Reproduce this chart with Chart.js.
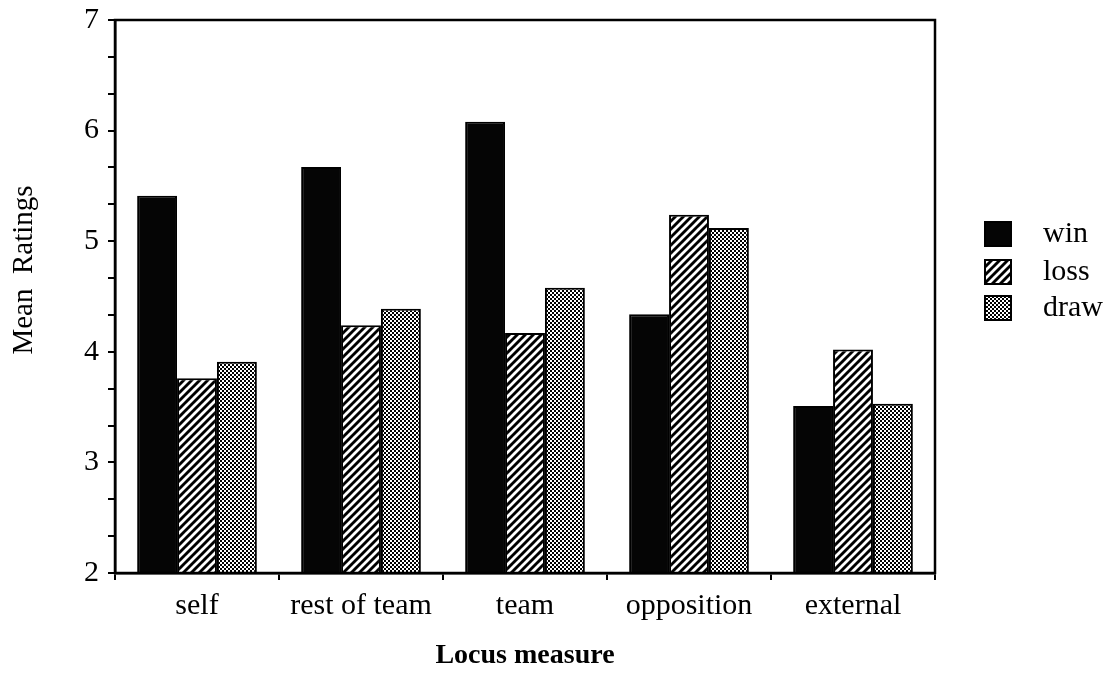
<!DOCTYPE html>
<html>
<head>
<meta charset="utf-8">
<script src="https://cdn.jsdelivr.net/npm/chart.js@4.4.1/dist/chart.umd.min.js"></script>
<style>
  html, body { margin: 0; padding: 0; background: #fff; }
  #wrap { width: 1111px; height: 673px; position: relative; }
</style>
</head>
<body>
<div id="wrap"><canvas id="chart"></canvas></div>
<script>
const categories = ['self', 'rest of team', 'team', 'opposition', 'external'];
const winValues  = [5.41, 5.67, 6.08, 4.34, 3.51];
const lossValues = [3.76, 4.24, 4.17, 5.24, 4.02];
const drawValues = [3.91, 4.39, 4.58, 5.12, 3.53];
const seriesNames = ['win', 'loss', 'draw'];
const yMin = 2, yMax = 7;

const FONT = '"Liberation Serif", "Times New Roman", serif';

function makePattern(size, paint) {
  const c = document.createElement('canvas');
  c.width = size; c.height = size;
  const g = c.getContext('2d');
  paint(g, size);
  return g.createPattern(c, 'repeat');
}

// fills: solid black, white diagonal stripes, fine checker
const solid = '#050505';
const stripes = makePattern(8, (g, s) => {
  g.fillStyle = '#000';
  g.fillRect(0, 0, s, s);
  g.strokeStyle = '#fff';
  g.lineWidth = 2.8;
  g.beginPath();
  g.moveTo(-1, s + 1); g.lineTo(s + 1, -1);
  g.moveTo(-2, 2); g.lineTo(2, -2);
  g.moveTo(s - 2, s + 2); g.lineTo(s + 2, s - 2);
  g.stroke();
});
const checks = makePattern(4, (g, s) => {
  g.fillStyle = '#fff';
  g.fillRect(0, 0, s, s);
  g.fillStyle = '#000';
  g.fillRect(0, 0, 2, 2);
  g.fillRect(2, 2, 2, 2);
});
const fills = [solid, stripes, checks];

// box round the plot area
const framePlugin = {
  id: 'frame',
  afterDatasetsDraw(chart) {
    const { ctx, chartArea: a } = chart;
    ctx.save();
    ctx.strokeStyle = '#000';
    ctx.lineWidth = 2.5;
    ctx.strokeRect(a.left, a.top, a.right - a.left, a.bottom - a.top);
    ctx.restore();
  }
};

// legend on the right
const legendPlugin = {
  id: 'sideLegend',
  afterDraw(chart) {
    const { ctx } = chart;
    const rows = [234, 272, 308];
    ctx.save();
    chart.data.datasets.forEach((ds, i) => {
      const y = rows[i];
      ctx.fillStyle = ds.backgroundColor;
      ctx.fillRect(985, y - 12, 26, 24);
      ctx.strokeStyle = '#000';
      ctx.lineWidth = 2;
      ctx.strokeRect(985, y - 12, 26, 24);
      ctx.fillStyle = '#000';
      ctx.font = '30px ' + FONT;
      ctx.textBaseline = 'middle';
      ctx.fillText(ds.label, 1043, y);
    });
    ctx.restore();
  }
};

// y title, placed a bit above the middle as in the original
const yTitlePlugin = {
  id: 'yTitle',
  afterDraw(chart) {
    const { ctx } = chart;
    ctx.save();
    ctx.translate(24, 270);
    ctx.rotate(-Math.PI / 2);
    ctx.fillStyle = '#000';
    ctx.font = '29px ' + FONT;
    ctx.textAlign = 'center';
    ctx.textBaseline = 'middle';
    ctx.fillText('Mean  Ratings', 0, 0);
    ctx.restore();
  }
};

new Chart(document.getElementById('chart'), {
  type: 'bar',
  data: {
    labels: categories,
    datasets: [winValues, lossValues, drawValues].map((vals, i) => ({
      label: seriesNames[i],
      data: vals,
      backgroundColor: fills[i],
      borderColor: '#000',
      borderWidth: 2,
      borderSkipped: false
    }))
  },
  options: {
    responsive: true,
    maintainAspectRatio: false,
    animation: false,
    layout: { padding: { top: 20, right: 176, left: 0, bottom: 0 } },
    datasets: { bar: { categoryPercentage: 0.73, barPercentage: 1 } },
    plugins: { legend: { display: false }, tooltip: { enabled: false } },
    scales: {
      x: {
        grid: { offset: true, drawOnChartArea: false, tickLength: 7, color: '#000', lineWidth: 2 },
        border: { display: true, color: '#000', width: 2.5 },
        ticks: { color: '#000', font: { family: FONT, size: 30 }, padding: 8, maxRotation: 0 },
        title: {
          display: true, text: 'Locus measure', color: '#000',
          font: { family: FONT, size: 28, weight: 'bold' },
          padding: { top: 4, bottom: 0 }
        },
        afterFit: s => { s.height = 100; }
      },
      y: {
        min: yMin,
        max: yMax,
        afterFit: s => { s.width = 115; s.paddingTop = 0; },
        ticks: {
          stepSize: 1 / 3,
          autoSkip: false,
          color: '#000',
          font: { family: FONT, size: 30 },
          padding: 9,
          callback: v => {
            const r = Math.round(v);
            return Math.abs(v - r) < 1e-6 ? String(r) : '';
          }
        },
        grid: { drawOnChartArea: false, tickLength: 7, color: '#000', lineWidth: 2 },
        border: { display: true, color: '#000', width: 2.5 }
      }
    }
  },
  plugins: [framePlugin, legendPlugin, yTitlePlugin]
});
</script>
</body>
</html>
